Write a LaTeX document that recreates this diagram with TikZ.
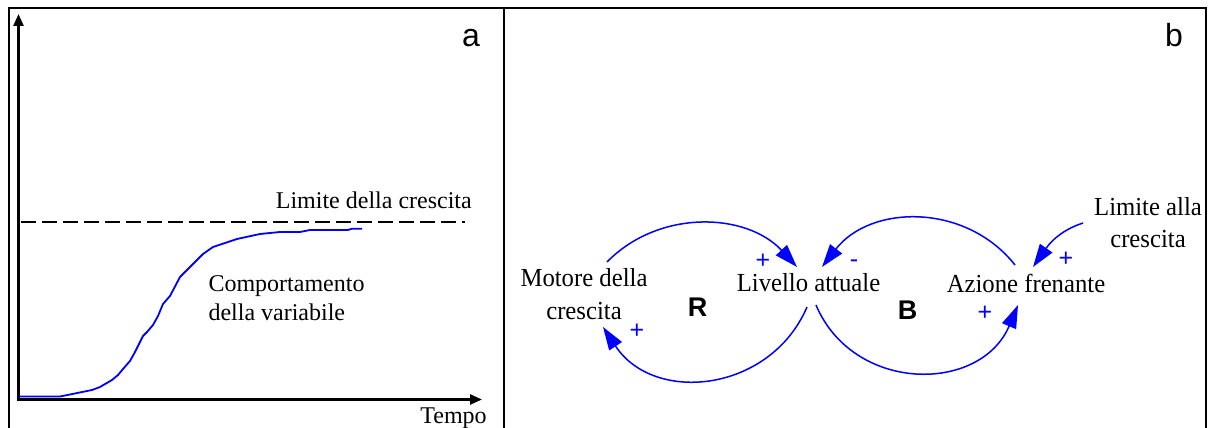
\documentclass[tikz,border=0pt]{standalone}
\usepackage{fontspec}
\setmainfont{Liberation Serif}
\newfontfamily\sansf{Liberation Sans}
\newfontfamily\diagserif[FakeStretch=0.95]{Liberation Serif}
\usetikzlibrary{arrows.meta}
\definecolor{lineblue}{RGB}{0,0,255}
\begin{document}
\begin{tikzpicture}[x=1pt,y=1pt,
  frame/.style={line width=1.5pt, black},
  axisline/.style={line width=2.5pt, line join=miter,
    {Triangle[length=12pt,width=10pt]}-{Triangle[length=12pt,width=10pt]}},
  limitline/.style={line width=2pt, dash pattern=on 15pt off 6pt},
  curveline/.style={draw=lineblue, line width=1.8pt, line join=round},
  lbl/.style={inner sep=0pt, font=\fontsize{24}{29}\selectfont},
  var/.style={inner sep=0pt, align=center, font=\diagserif\fontsize{26}{32.5}\selectfont},
  sign/.style={inner sep=0pt, text=lineblue, font=\sansf\fontsize{25}{30}\selectfont},
  loopname/.style={inner sep=0pt, font=\sansf\bfseries\fontsize{27}{30}\selectfont},
  panel/.style={inner sep=0pt, font=\sansf\fontsize{32}{36}\selectfont},
  link/.style={draw=lineblue, line width=1.5pt, -{Triangle[length=23pt,width=15pt]}}
]
\useasboundingbox (0,0) rectangle (1211,428);

% frame
\draw[frame] (9,0) -- (9,420) -- (1206,420) -- (1206,0);
\draw[frame] (504,420) -- (504,0);

% panel a
\coordinate (origin) at (18.5,28.5);
\coordinate (ytip) at (18.5,414);
\coordinate (xtip) at (482,28.5);
\draw[axisline] (ytip) -- (origin) -- (xtip);

\coordinate (limstart) at (21,206);
\coordinate (limend) at (465,206);
\draw[limitline] (limstart) -- (limend);

\draw[curveline] plot coordinates {(19,31.5) (60,31.5) (70,33.5) (92,38) (100,41) (112,48) (118,53) (123,59) (130,67) (135,76) (143,92) (147,96) (153,103) (158,112) (163,124) (170,132) (180,151) (195,166) (203,174) (213,181) (237,189) (260,194) (280,196) (300,196) (310,198) (348,198) (352,199.3) (362,199.3)};

\node[lbl, anchor=base] (limlabel) at (373.8,219.7) {Limite della crescita};
\node[lbl, align=left, anchor=west] (comp) at (208.3,130) {Comportamento\\della variabile};
\node[lbl, anchor=base] (tempo) at (453.5,4) {Tempo};
\node[panel, anchor=base] (pa) at (471,381) {a};

% panel b
\node[panel, anchor=base] (pb) at (1174,381) {b};
\node[var] (motore) at (584,133.9) {Motore della\\crescita};
\node[var, anchor=base] (livello) at (808.5,136) {Livello attuale};
\node[var, anchor=base] (azione) at (1026,135.5) {Azione frenante};
\node[var] (limite) at (1148,205.4) {Limite alla\\crescita};

\draw[link] ([shift={(23,32.1)}]motore.center) to[out=45.6,in=132.8] ([shift={(-11.5,25)}]livello.base);
\draw[link] ([shift={(-1.5,-15)}]livello.base) to[out=-113.2,in=-56.7,looseness=1.16] ([shift={(19,-32.9)}]motore.center);
\draw[link] ([shift={(-11,27.5)}]azione.base) to[out=128.3,in=52.2,looseness=1.05] ([shift={(13.5,25)}]livello.base);
\draw[link] ([shift={(7.5,-13)}]livello.base) to[out=-67.1,in=-112.9,looseness=1.22] ([shift={(-8,-12.5)}]azione.base);
\draw[link] ([shift={(-65,-0.4)}]limite.center) to[out=198,in=55] ([shift={(7,25.5)}]azione.base);

\node[sign] (s1) at (763,167) {+};
\node[sign] (s2) at (637,97) {+};
\node[sign] (s3) at (854,164) {-};
\node[sign] (s4) at (1066,169) {+};
\node[sign] (s5) at (985,115) {+};

\node[loopname] (R) at (697.5,120.5) {R};
\node[loopname] (B) at (907.5,117.5) {B};
\end{tikzpicture}
\end{document}
